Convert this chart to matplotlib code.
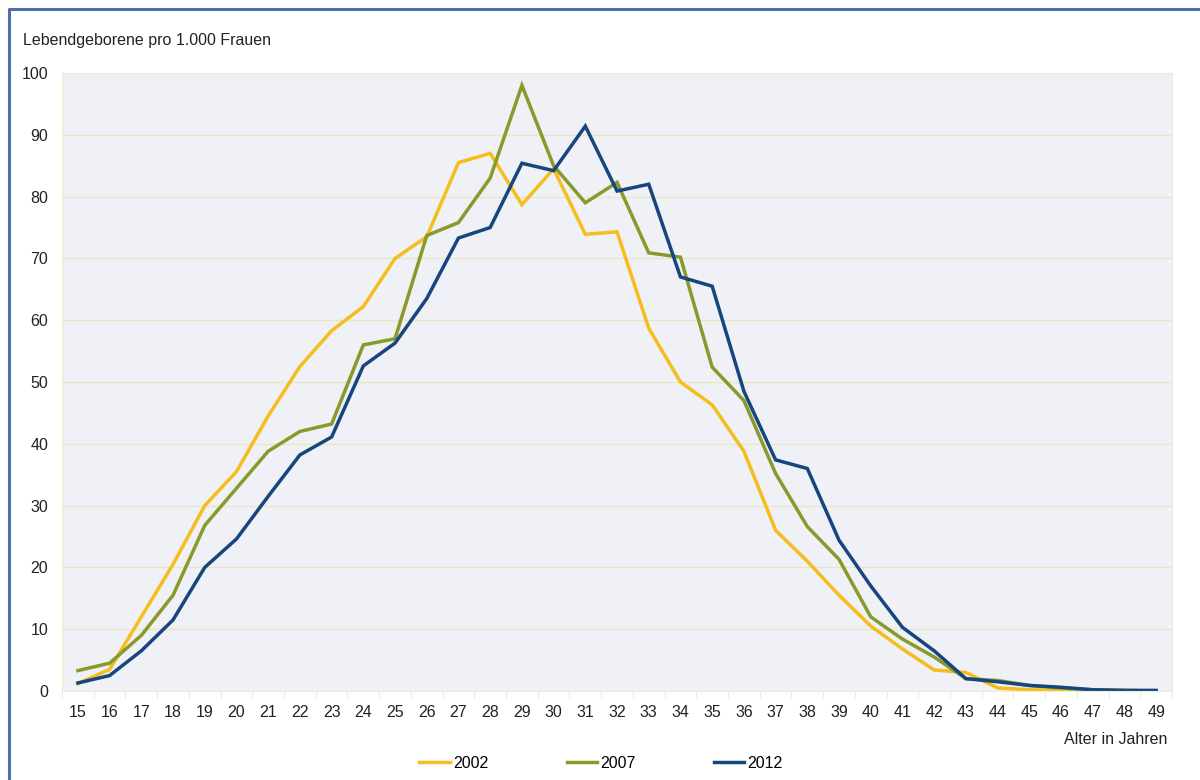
import matplotlib.pyplot as plt
import numpy as np

plt.rcParams['font.family'] = ['Liberation Sans', 'DejaVu Sans']

ages = list(range(15, 50))
y2002 = [1.2, 3.5, 12, 20.5, 30, 35.5, 44.5, 52.5, 58.3, 62.2, 70, 73.5, 85.5, 87,
         78.7, 84.5, 73.9, 74.3, 58.7, 50, 46.3, 38.8, 26, 21, 15.5, 10.5, 6.8, 3.4,
         3, 0.5, 0.2, 0.1, 0, 0, 0]
y2007 = [3.3, 4.5, 9, 15.5, 26.8, 32.8, 38.8, 42, 43.2, 56, 57, 73.7, 75.8, 83,
         98, 85, 79, 82.3, 70.9, 70.2, 52.4, 47, 35.2, 26.6, 21.3, 12, 8.4, 5.5,
         2, 1.7, 0.9, 0.5, 0.2, 0.1, 0]
y2012 = [1.3, 2.5, 6.5, 11.5, 20, 24.6, 31.5, 38.2, 41.1, 52.6, 56.3, 63.5, 73.3, 75,
         85.4, 84.2, 91.4, 80.9, 82, 67, 65.5, 48.5, 37.4, 36, 24.4, 17, 10.3, 6.5,
         2, 1.5, 0.9, 0.6, 0.2, 0.1, 0.1]
series = [("2002", y2002, "#F4BE1C"), ("2007", y2007, "#8A9A2A"), ("2012", y2012, "#17457E")]

fig = plt.figure(figsize=(12, 7.8), dpi=100)
ax = fig.add_axes([0.0517, 0.1141, 0.925, 0.7923])
ax.set_facecolor("#EFF1F7")

x = np.arange(len(ages))
for name, vals, col in series:
    ax.plot(x, vals, color=col, lw=2.5, label=name, solid_joinstyle="miter")

ax.set_xlim(-0.5, len(ages) - 0.5)
ax.set_ylim(0, 100)
ax.set_yticks(range(0, 101, 10))
ax.set_xticks(x)
ax.set_xticklabels([str(a) for a in ages])
ax.set_xticks(np.arange(-0.5, len(ages), 1), minor=True)
ax.tick_params(axis="x", which="major", length=0, pad=10, labelsize=11.5, labelcolor="#222222")
ax.tick_params(axis="x", which="minor", length=5, color="#E4E8C8", direction="out")
ax.tick_params(axis="y", length=0, pad=10, labelsize=11.5, labelcolor="#222222")
ax.grid(axis="y", color="#E6E9C4", lw=1)
ax.set_axisbelow(True)
for s in ["top", "right", "bottom"]:
    ax.spines[s].set_color("#ECEED8")
ax.spines["left"].set_color("#EEF0C8")

fig.text(23 / 1200, 1 - 40 / 780, "Lebendgeborene pro 1.000 Frauen", fontsize=11.5,
         va="center", ha="left", color="#222222")
fig.text(1167 / 1200, 1 - 740 / 780, "Alter in Jahren", fontsize=11.5,
         va="center", ha="right", color="#222222")

leg = fig.legend(loc="center", bbox_to_anchor=(601 / 1200, 1 - 763 / 780), ncol=3, frameon=False,
                 fontsize=11.5, handlelength=1.9, handletextpad=0.2, columnspacing=4.9)

# blue frame around the chart
fig.add_artist(plt.Line2D([9 / 1200, 9 / 1200, 1], [0, 1 - 9 / 780, 1 - 9 / 780],
                          transform=fig.transFigure, color="#4F6DAA", lw=2.2))

fig.savefig("out.png", dpi=100)
